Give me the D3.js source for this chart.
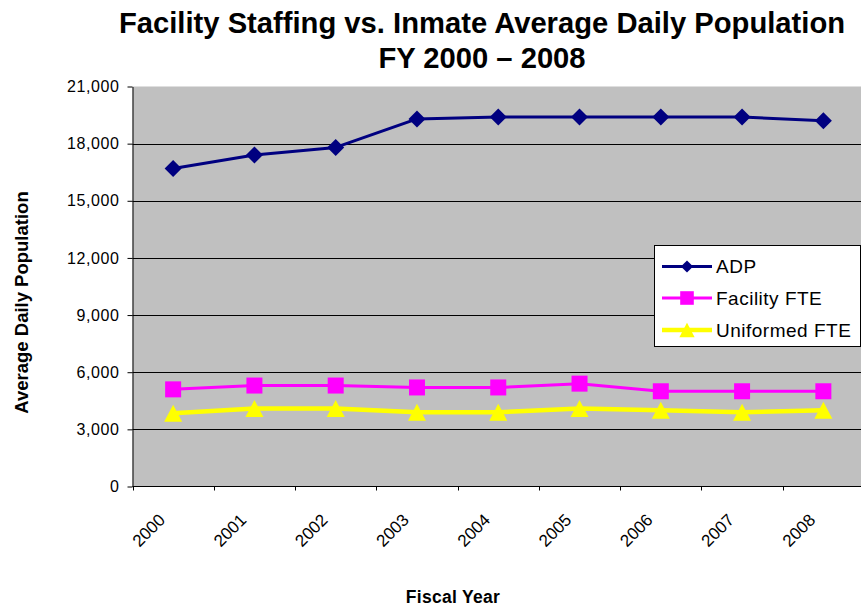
<!DOCTYPE html>
<html>
<head>
<meta charset="utf-8">
<script src="https://cdn.jsdelivr.net/npm/d3@7"></script>
<style>
  html, body { margin: 0; padding: 0; background: #fff; }
  svg { display: block; font-family: "Liberation Sans", Arial, sans-serif; }
</style>
</head>
<body>
<svg id="chart" width="861" height="608"></svg>
<script>
// ---- data ----
const years = ["2000","2001","2002","2003","2004","2005","2006","2007","2008"];
const adp = [16700, 17400, 17800, 19300, 19400, 19400, 19400, 19400, 19200];
const facilityFTE = [5100, 5300, 5300, 5200, 5200, 5400, 5000, 5000, 5000];
const uniformedFTE = [3850, 4100, 4100, 3900, 3900, 4100, 4000, 3900, 4000];
const yTicks = [0, 3000, 6000, 9000, 12000, 15000, 18000, 21000];
const seriesNames = ["ADP", "Facility FTE", "Uniformed FTE"];
const titleLines = ["Facility Staffing vs. Inmate Average Daily Population", "FY 2000 \u2013 2008"];
const yAxisTitle = "Average Daily Population";
const xAxisTitle = "Fiscal Year";

// ---- layout ----
const svg = d3.select("#chart");
const L = 132.5, R = 864, T = 86.5, B = 486.5;

const x = d3.scaleBand().domain(years).range([L, R]).padding(0);
const cx = d => x(d) + x.bandwidth() / 2;
const y = d3.scaleLinear().domain([0, 21000]).range([B, T]);

// plot area
svg.append("rect").attr("x", L).attr("y", T).attr("width", R - L).attr("height", B - T)
  .attr("fill", "#C0C0C0");

// gridlines
svg.append("g").selectAll("line").data(yTicks.filter(v => v > 0 && v < 21000)).join("line")
  .attr("x1", L).attr("x2", R)
  .attr("y1", d => Math.round(y(d)) + 0.5).attr("y2", d => Math.round(y(d)) + 0.5)
  .attr("stroke", "#000").attr("stroke-width", 1);

// y axis
const yAxis = d3.axisLeft(y).tickValues(yTicks).tickFormat(d3.format(",")).tickSizeInner(5).tickSizeOuter(0).tickPadding(8);
const gy = svg.append("g").attr("transform", `translate(${L},0)`).call(yAxis);
gy.attr("font-family", "Liberation Sans, Arial, sans-serif");
gy.select(".domain").attr("stroke", "#000");
gy.selectAll(".tick line").attr("stroke", "#000");
gy.selectAll(".tick text").attr("font-size", 16).attr("fill", "#000").attr("letter-spacing", 0.6);

// x axis line + ticks at band edges
const gx = svg.append("g");
gx.append("line").attr("x1", L).attr("x2", R).attr("y1", B).attr("y2", B).attr("stroke", "#000");
gx.selectAll("line.tk").data(years).join("line").attr("class", "tk")
  .attr("x1", d => Math.round(x(d)) + 0.5).attr("x2", d => Math.round(x(d)) + 0.5)
  .attr("y1", B).attr("y2", B + 4).attr("stroke", "#000");
gx.selectAll("text").data(years).join("text")
  .attr("transform", d => `translate(${cx(d) - 7},${B + 34.5}) rotate(-45)`)
  .attr("text-anchor", "end").attr("font-size", 17).attr("fill", "#000")
  .text(d => d);

// series
const series = [
  { name: seriesNames[0], values: adp, color: "#000080", width: 3, marker: "diamond" },
  { name: seriesNames[1], values: facilityFTE, color: "#FF00FF", width: 3, marker: "square" },
  { name: seriesNames[2], values: uniformedFTE, color: "#FFFF00", width: 4.5, marker: "triangle" }
];

function markerPath(type, s) {
  s = s || 1;
  if (type === "diamond") { const r = 8.5 * s; return `M0,${-r}L${r},0L0,${r}L${-r},0Z`; }
  if (type === "square") { const r = 8 * s; return `M${-r},${-r}H${r}V${r}H${-r}Z`; }
  const w = 9 * s, h = 8.5 * s; return `M0,${-h}L${w},${h}L${-w},${h}Z`;
}

const line = d3.line().x((d, i) => cx(years[i])).y(d => y(d));
series.forEach(s => {
  const g = svg.append("g");
  g.append("path").attr("d", line(s.values)).attr("fill", "none")
    .attr("stroke", s.color).attr("stroke-width", s.width).attr("stroke-linejoin", "round");
  g.selectAll("path.m").data(s.values).join("path").attr("class", "m")
    .attr("transform", (d, i) => `translate(${cx(years[i])},${y(d)})`)
    .attr("d", markerPath(s.marker)).attr("fill", s.color);
});

// legend
const lg = svg.append("g");
lg.append("rect").attr("x", 654.5).attr("y", 245.5).attr("width", 206).attr("height", 101)
  .attr("fill", "#fff").attr("stroke", "#000");
const rowY = [266.5, 298, 330];
series.forEach((s, i) => {
  lg.append("line").attr("x1", 662).attr("x2", 712).attr("y1", rowY[i]).attr("y2", rowY[i])
    .attr("stroke", s.color).attr("stroke-width", s.width);
  lg.append("path").attr("transform", `translate(687,${rowY[i]})`)
    .attr("d", markerPath(s.marker, s.marker === "diamond" ? 0.72 : 0.85)).attr("fill", s.color);
  lg.append("text").attr("x", 716).attr("y", rowY[i]).attr("dy", "0.35em")
    .attr("font-size", 19).attr("letter-spacing", 0.5).attr("fill", "#000").text(s.name);
});

// titles
svg.append("text").attr("x", 482).attr("y", 33).attr("text-anchor", "middle")
  .attr("font-size", 29.2).attr("font-weight", "bold").text(titleLines[0]);
svg.append("text").attr("x", 482).attr("y", 68).attr("text-anchor", "middle")
  .attr("font-size", 29.2).attr("font-weight", "bold").text(titleLines[1]);

svg.append("text").attr("transform", "translate(28,302.5) rotate(-90)").attr("text-anchor", "middle")
  .attr("font-size", 18.5).attr("font-weight", "bold").text(yAxisTitle);

svg.append("text").attr("x", 453).attr("y", 603).attr("text-anchor", "middle")
  .attr("font-size", 17.5).attr("font-weight", "bold").attr("letter-spacing", 0.3).text(xAxisTitle);
</script>
</body>
</html>
